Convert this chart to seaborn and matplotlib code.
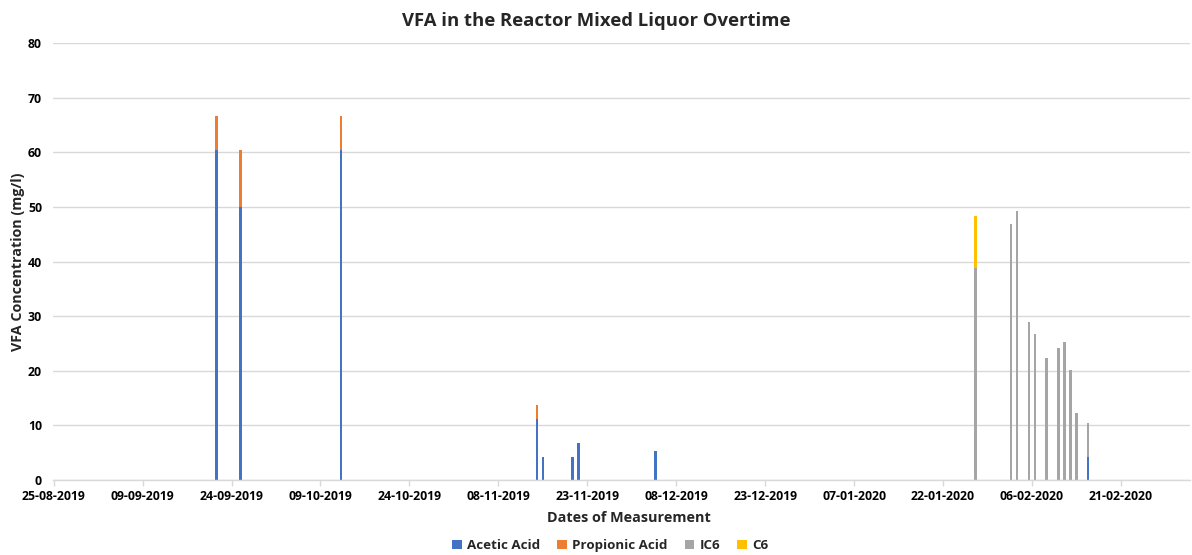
import pandas as pd
import numpy as np
import matplotlib
matplotlib.use("Agg")
import matplotlib.pyplot as plt
import matplotlib.dates as mdates
from matplotlib.patches import Patch
import seaborn as sns

dates = ["2019-09-21", "2019-09-25", "2019-10-12", "2019-11-14", "2019-11-15",
         "2019-11-20", "2019-11-21", "2019-12-04", "2020-01-27", "2020-02-02",
         "2020-02-03", "2020-02-05", "2020-02-06", "2020-02-08", "2020-02-10",
         "2020-02-11", "2020-02-12", "2020-02-13", "2020-02-15"]
acetic = [60.5, 50.0, 60.5, 11.2, 4.2, 4.2, 6.8, 5.4, 0, 0,
          0, 0, 0, 0, 0, 0, 0, 0, 4.2]
propionic = [6.2, 10.5, 6.2, 2.6, 0, 0, 0, 0, 0, 0,
             0, 0, 0, 0, 0, 0, 0, 0, 0]
ic6 = [0, 0, 0, 0, 0, 0, 0, 0, 38.9, 46.8,
       49.3, 28.9, 26.7, 22.3, 24.2, 25.2, 20.2, 12.2, 6.2]
c6 = [0, 0, 0, 0, 0, 0, 0, 0, 9.4, 0,
      0, 0, 0, 0, 0, 0, 0, 0, 0]

series_names = ["Acetic Acid", "Propionic Acid", "IC6", "C6"]
colors = ["#4472C4", "#ED7D31", "#A5A5A5", "#FFC000"]

axis_start = "2019-08-25"
axis_end = "2020-03-04"
tick_labels_every_days = 15

# Format long pour seaborn
df = pd.DataFrame({"date": pd.to_datetime(dates),
                   "Acetic Acid": acetic, "Propionic Acid": propionic,
                   "IC6": ic6, "C6": c6})
long_df = df.melt(id_vars="date", var_name="acid", value_name="value")
long_df["num"] = mdates.date2num(long_df["date"]) + 0.5

sns.set_theme(style="white")
plt.rcParams["font.family"] = ["Open Sans", "DejaVu Sans"]

fig = plt.figure(figsize=(11.92, 5.55), dpi=100)
ax = fig.add_axes([0.0445, 0.135, 0.9535, 0.7875])

x0 = mdates.date2num(pd.Timestamp(axis_start))
x1 = mdates.date2num(pd.Timestamp(axis_end))

# seaborn empile le dernier niveau en bas -> ordre inversé
sns.histplot(data=long_df, x="num", weights="value", hue="acid",
             hue_order=series_names[::-1], palette=colors[::-1],
             multiple="stack", binwidth=1, binrange=(x0, x1), shrink=0.42,
             element="bars", fill=True, alpha=1, linewidth=0,
             legend=False, ax=ax)

ax.set_xlim(x0 - 0.1, x0 + 191.6)
ax.set_ylim(0, 80)
ax.set_yticks(np.arange(0, 81, 10))
ticks = pd.date_range(axis_start, "2020-02-21", freq=f"{tick_labels_every_days}D")
ax.set_xticks(mdates.date2num(ticks))
ax.set_xticklabels([t.strftime("%d-%m-%Y") for t in ticks])

ax.grid(axis="y", color="#D9D9D9", linewidth=1)
ax.grid(axis="x", visible=False)
ax.set_axisbelow(True)
for side in ["left", "right", "top"]:
    ax.spines[side].set_visible(False)
ax.spines["bottom"].set_color("#D9D9D9")
ax.spines["bottom"].set_linewidth(1)
ax.tick_params(axis="x", bottom=True, length=4, width=1, color="#D9D9D9",
               direction="out", pad=3, labelsize=8.8)
ax.tick_params(axis="y", left=False, length=0, pad=8, labelsize=8.8)
for lbl in ax.get_xticklabels() + ax.get_yticklabels():
    lbl.set_fontweight("bold")
    lbl.set_color("#000000")

ax.set_xlabel("Dates of Measurement", fontsize=10.4, fontweight="bold")
ax.xaxis.set_label_coords(0.5065, -0.07)
ax.set_ylabel("VFA Concentration (mg/l)", fontsize=10.3, fontweight="bold")
ax.yaxis.set_label_coords(-0.0245, 0.5)
fig.text(0.5, 0.963, "VFA in the Reactor Mixed Liquor Overtime",
         ha="center", va="center", fontsize=13.3, fontweight="bold")

handles = [Patch(facecolor=c, edgecolor="none") for c in colors]
fig.legend(handles, series_names, loc="center", bbox_to_anchor=(0.512, 0.017),
           ncol=4, frameon=False, prop={"weight": "bold", "size": 9.6},
           handlelength=0.7, handleheight=0.7, handletextpad=0.4, columnspacing=1.3)

fig.savefig("out.png", dpi=100)
